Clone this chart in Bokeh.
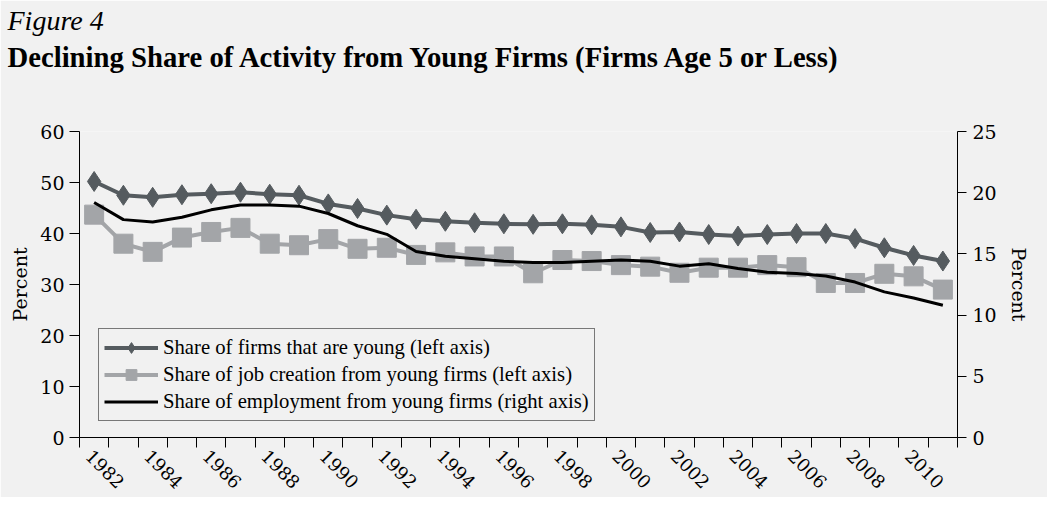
import math
from bokeh.plotting import figure
from bokeh.models import (Range1d, LinearAxis, FixedTicker, Legend, LegendItem,
                          Title, ColumnDataSource)
from bokeh.embed import file_html
from bokeh.resources import INLINE

# ---------------- data ----------------
years = list(range(1982, 2012))
firms_young = [50.2, 47.5, 47.1, 47.6, 47.8, 48.1, 47.7, 47.5, 45.8, 44.9,
               43.6, 42.8, 42.4, 42.1, 41.9, 41.8, 41.9, 41.7, 41.3, 40.2,
               40.3, 39.8, 39.5, 39.8, 40.0, 40.0, 39.0, 37.2, 35.7, 34.6]
job_creation = [43.7, 38.0, 36.4, 39.2, 40.3, 41.1, 38.0, 37.7, 38.9, 37.0,
                37.2, 35.8, 36.3, 35.5, 35.5, 32.2, 34.8, 34.6, 33.8, 33.5,
                32.3, 33.3, 33.3, 33.8, 33.4, 30.3, 30.3, 32.1, 31.6, 29.0]
employment = [19.2, 17.8, 17.6, 18.0, 18.6, 19.0, 19.0, 18.9, 18.3, 17.3,
              16.6, 15.2, 14.8, 14.6, 14.4, 14.3, 14.3, 14.4, 14.5, 14.4,
              14.0, 14.2, 13.8, 13.5, 13.4, 13.2, 12.7, 11.9, 11.4, 10.8]
x_label_years = list(range(1982, 2011, 2))
x_labels = [str(y) for y in x_label_years]
left_ticks = [0, 10, 20, 30, 40, 50, 60]
right_ticks = [0, 5, 10, 15, 20, 25]
series_names = ["Share of firms that are young (left axis)",
                "Share of job creation from young firms (left axis)",
                "Share of employment from young firms (right axis)"]
fig_label = "Figure 4"
title_text = "Declining Share of Activity from Young Firms (Firms Age 5 or Less)"

# ---------------- style ----------------
BG = "#f1f1f1"
DM = "#555b5f"
SQ = "#a3a5a8"
AX_FONT = "DejaVu Serif"
TXT_FONT = "Liberation Serif"
LABEL_NUDGE = 0.17   # rotated year labels sit slightly left of the category centre

src = ColumnDataSource(dict(year=years, firms=firms_young, jobs=job_creation, emp=employment))

p = figure(frame_width=878, frame_height=306,
           x_range=Range1d(years[0] - 0.5, years[-1] + 0.5), y_range=Range1d(0, 60),
           output_backend="svg", toolbar_location=None, title=None,
           background_fill_color=BG, border_fill_color=BG,
           min_border_left=79, min_border_top=130, min_border_right=90, min_border_bottom=55)
p.outline_line_color = None
p.grid.visible = False
p.extra_y_ranges = {"right": Range1d(0, 25)}

# x axis
label_pos = [y - LABEL_NUDGE for y in x_label_years]
xa = p.xaxis[0]
xa.ticker = FixedTicker(ticks=label_pos,
                        minor_ticks=[y - 0.5 for y in years] + [years[-1] + 0.5])
xa.major_label_overrides = {t: s for t, s in zip(label_pos, x_labels)}
xa.major_tick_out = 0
xa.major_tick_in = 0
xa.minor_tick_out = 10
xa.minor_tick_in = 0
xa.minor_tick_line_color = "black"
xa.axis_line_color = "black"
xa.major_label_orientation = -math.pi / 4
xa.major_label_text_font = AX_FONT
xa.major_label_text_font_size = "18px"
xa.major_label_text_color = "black"
xa.major_label_standoff = 5

# left axis
ya = p.yaxis[0]
ya.ticker = FixedTicker(ticks=left_ticks)
ya.major_tick_out = 10
ya.major_tick_in = 0
ya.minor_tick_out = 0
ya.minor_tick_in = 0
ya.axis_line_color = "black"
ya.major_tick_line_color = "black"
ya.major_label_text_font = AX_FONT
ya.major_label_text_font_size = "19px"
ya.major_label_text_color = "black"
ya.major_label_standoff = 5
ya.axis_label = "Percent"
ya.axis_label_text_font = AX_FONT
ya.axis_label_text_font_style = "normal"
ya.axis_label_text_font_size = "19px"
ya.axis_label_text_color = "black"
ya.axis_label_standoff = 6

# right axis
ra = LinearAxis(y_range_name="right", ticker=FixedTicker(ticks=right_ticks))
ra.major_tick_out = 9
ra.major_tick_in = 0
ra.minor_tick_out = 0
ra.minor_tick_in = 0
ra.axis_line_color = "black"
ra.major_tick_line_color = "black"
ra.major_label_text_font = AX_FONT
ra.major_label_text_font_size = "19px"
ra.major_label_text_color = "black"
ra.major_label_standoff = 6
ra.axis_label = "Percent"
ra.axis_label_text_font = AX_FONT
ra.axis_label_text_font_style = "normal"
ra.axis_label_text_font_size = "19px"
ra.axis_label_text_color = "black"
ra.axis_label_standoff = 8
p.add_layout(ra, "right")

# series
l2 = p.line("year", "jobs", source=src, line_color=SQ, line_width=4)
s2 = p.scatter("year", "jobs", source=src, marker="square", size=19,
               fill_color=SQ, line_color=SQ)
l1 = p.line("year", "firms", source=src, line_color=DM, line_width=4)
s1 = p.scatter("year", "firms", source=src, marker="diamond", size=20,
               fill_color=DM, line_color=DM)
l3 = p.line("year", "emp", source=src, y_range_name="right", line_color="black", line_width=3)

legend = Legend(items=[LegendItem(label=series_names[0], renderers=[l1, s1]),
                       LegendItem(label=series_names[1], renderers=[l2, s2]),
                       LegendItem(label=series_names[2], renderers=[l3])],
                location=(19, 16), orientation="vertical",
                glyph_width=54, glyph_height=27, label_height=27, spacing=0, padding=5,
                label_standoff=5, margin=0,
                label_text_font=TXT_FONT, label_text_font_size="20.7px",
                label_text_color="black",
                border_line_color="black", border_line_width=1,
                background_fill_color=BG, background_fill_alpha=1.0)
p.add_layout(legend)

# titles (innermost first)
p.add_layout(Title(text=" ", text_font=TXT_FONT, text_font_size="28px",
                   align="left", standoff=24), "above")
p.add_layout(Title(text=title_text, text_font=TXT_FONT, text_font_style="bold",
                   text_font_size="28.7px", text_color="black", align="left",
                   offset=-72, standoff=3), "above")
p.add_layout(Title(text=fig_label, text_font=TXT_FONT, text_font_style="italic",
                   text_font_size="28px", text_color="black", align="left",
                   offset=-72, standoff=4), "above")

open("out.html", "w").write(file_html(p, INLINE))
